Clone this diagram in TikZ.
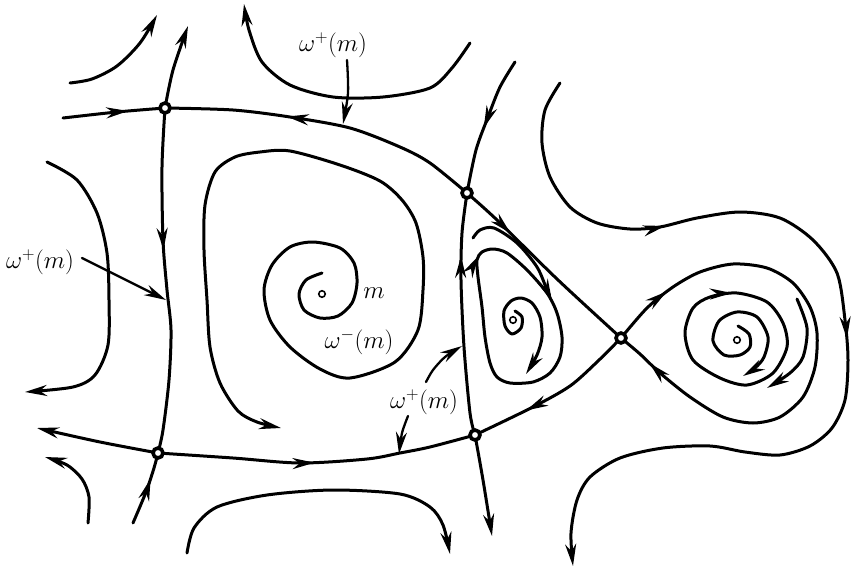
\documentclass[tikz,border=0pt]{standalone}
\usetikzlibrary{arrows.meta,decorations.markings}
\tikzset{
  ah/.tip={Stealth[length=22pt,width=11pt]},
  flow/.style={line width=3pt, line cap=round, line join=round},
  leader/.style={line width=2.3pt, line cap=round},
  marr/.style={postaction={decorate,decoration={markings,mark=at position #1 with {\arrow{ah}}}}},
  saddle/.style={circle, draw, fill=white, line width=3.6pt, minimum size=10pt, inner sep=0pt},
  ctr/.style={circle, draw, fill=white, line width=1.6pt, minimum size=6.5pt, inner sep=0pt},
  lab/.style={font=\fontsize{24}{28}\selectfont, inner sep=0pt},
}
\begin{document}
\begin{tikzpicture}[x=1pt,y=-1pt]
\useasboundingbox (0,0) rectangle (857,570);
\coordinate (S1) at (165,108);
\coordinate (S2) at (467,193);
\coordinate (S3) at (158,453);
\coordinate (S4) at (475,435);
\coordinate (S5) at (621,338);
\coordinate (M) at (322,294);
\coordinate (F1) at (513,320);
\coordinate (F2) at (737,340);

% top-left arc
\draw[flow,-ah] plot[smooth] coordinates {(70,83) (92,79) (117,66) (140,43) (157,15)};
% S1 up
\draw[flow,-ah] plot[smooth] coordinates {(S1) (173,70) (188,26)};
% S1 -> S3
\draw[flow,marr=0.41] plot[smooth] coordinates {(S1) (162,167) (163,240) (167,290) (171,330) (169,380) (163,430) (S3)};
% below S3
\draw[flow,marr=0.64] plot[smooth] coordinates {(133,523) (146,492) (154,468) (S3)};
% left horizontal into S1
\draw[flow,marr=0.64] plot[smooth] coordinates {(63,118) (117,112) (S1)};
% S2 -> S1
\draw[flow,marr=0.62] plot[smooth] coordinates {(S2) (430,163) (400,147) (350,128) (290,117) (233,110) (S1)};
% top curve
\draw[flow,-ah] plot[smooth] coordinates {(470,43) (452,68) (430,88) (383,97) (333,97) (290,85) (262,62) (249,30) (244,4)};
% S2 top vertical
\draw[flow,marr=0.52] plot[smooth] coordinates {(515,62) (500,87) (488,117) (476,150) (S2)};
% S4 -> S2
\draw[flow,marr=0.74] plot[smooth] coordinates {(S4) (470,413) (464,347) (461,280) (462,233) (S2)};
% S4 down
\draw[flow,-ah] plot[smooth] coordinates {(S4) (483,480) (492,536)};
% S3 left
\draw[flow,-ah] plot[smooth] coordinates {(S3) (100,442) (37,428)};
% S3 -> S4
\draw[flow,marr=0.49] plot[smooth] coordinates {(S3) (233,458) (300,463) (367,459) (400,453) (430,447) (S4)};
% S5 -> S4
\draw[flow,marr=0.68] plot[smooth] coordinates {(S5) (597,362) (570,386) (533,407) (S4)};
% S2 -> S5
\draw[flow,marr=0.28] plot[smooth] coordinates {(S2) (497,220) (557,279) (S5)};
% homoclinic loop at S5
\draw[flow,marr=0.12,marr=0.93] plot[smooth] coordinates {(S5) (647,308) (673,287) (700,272) (733,264) (767,268) (793,283) (810,307) (817,333) (815,367) (803,397) (780,417) (753,423) (723,417) (690,397) (660,373) (640,354) (S5)};
% right cycle
\draw[flow,marr=0.14] plot[smooth cycle] coordinates {(685,333) (693,308) (710,297) (737,293) (767,302) (783,323) (787,347) (773,373) (747,385) (720,378) (693,360)};
% right inner spiral
\draw[flow,-ah] plot[smooth] coordinates {(738,326) (749,334) (750,347) (740,355) (724,355) (713,341) (719,321) (737,312) (757,317) (768,337) (764,357) (755,368) (743,376)};
% right arc
\draw[flow,-ah] plot[smooth] coordinates {(797,299) (807,328) (803,357) (790,373) (767,388)};
% outer right curve
\draw[flow,marr=0.25,marr=0.53,-ah] plot[smooth] coordinates {(560,83) (545,110) (542,143) (550,177) (570,207) (597,223) (630,229) (660,227) (697,218) (740,212) (780,218) (813,240) (837,273) (845,320) (848,360) (845,400) (832,428) (810,446) (780,455) (745,452) (710,446) (663,448) (620,458) (590,477) (577,500) (571,533) (573,566)};
% triangle arc
\draw[flow,-ah] plot[smooth] coordinates {(473,238) (480,230) (494,228) (517,243) (537,267) (547,290) (552,301)};
% triangle cycle
\draw[flow,marr=0.23] plot[smooth cycle] coordinates {(490,363) (485,337) (482,307) (478,277) (477,260) (482,252) (493,249) (507,253) (527,270) (547,293) (557,313) (562,337) (560,357) (550,373) (533,382) (510,383) (497,377)};
% triangle spiral
\draw[flow,-ah] plot[smooth] coordinates {(515,311) (522,317) (521,328) (512,334) (505,326) (504,311) (511,301) (521,298) (532,303) (540,317) (542,337) (537,355) (526,374)};
% spiral around m
\draw[flow,-ah] plot[smooth] coordinates {(322,273) (306,280) (299,294) (304,310) (320,318) (338,316) (352,303) (357,283) (354,263) (340,248) (313,242) (290,247) (272,265) (264,290) (270,320) (290,347) (320,369) (350,378) (395,362) (418,330) (423,290) (423,257) (416,223) (402,200) (380,181) (340,165) (290,151) (260,152) (235,157) (215,172) (205,205) (204,250) (207,300) (210,347) (220,383) (238,411) (257,422) (281,428)};
% left outer
\draw[flow,-ah] plot[smooth] coordinates {(47,162) (77,180) (97,213) (107,253) (109,300) (108,345) (95,375) (73,387) (25,392)};
% lower-left arc
\draw[flow,-ah] plot[smooth] coordinates {(88,523) (89,497) (82,479) (67,465) (45,457)};
% bottom curve
\draw[flow,-ah] plot[smooth] coordinates {(187,553) (194,528) (217,507) (267,495) (333,490) (400,494) (430,507) (443,525) (450,554)};

% labels
\node[lab] (l1) at (333,45) {$\omega^{+}(m)$};
\node[lab] (l2) at (40,262) {$\omega^{+}(m)$};
\node[lab] (l3) at (424,402) {$\omega^{+}(m)$};
\node[lab] (l4) at (359,342) {$\omega^{-}(m)$};
\node[lab] (l5) at (374,293) {$m$};
\coordinate (a1) at (343,124);
\coordinate (a2) at (166,300);
\coordinate (a3) at (399,454);
\coordinate (a4) at (462,346);
\draw[leader,-ah] plot[smooth] coordinates {(347,60) (348,93) (a1)};
\draw[leader,-ah] (82,258) -- (a2);
\draw[leader,-ah] plot[smooth] coordinates {(408,416) (402,433) (a3)};
\draw[leader,-ah] plot[smooth] coordinates {(426,382) (433,370) (445,357) (a4)};

% fixed points
\node[saddle] (s1) at (S1) {};
\node[saddle] (s2) at (S2) {};
\node[saddle] (s3) at (S3) {};
\node[saddle] (s4) at (S4) {};
\node[saddle] (s5) at (S5) {};
\node[ctr] (c0) at (M) {};
\node[ctr] (c1) at (F1) {};
\node[ctr] (c2) at (F2) {};
\end{tikzpicture}
\end{document}
